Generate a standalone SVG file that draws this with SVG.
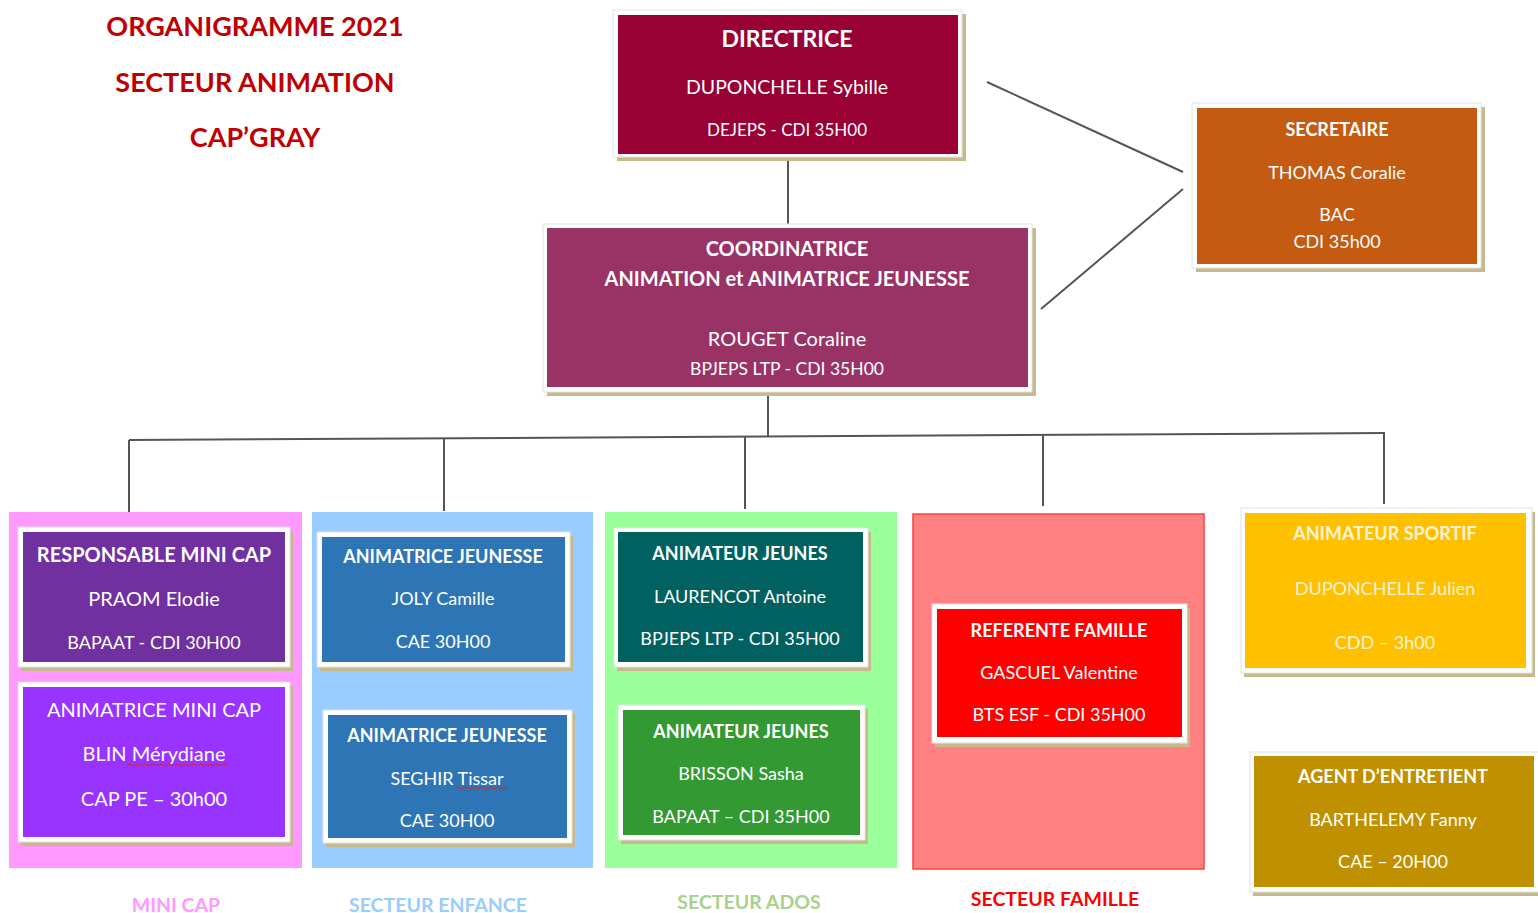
<svg xmlns="http://www.w3.org/2000/svg" width="1538" height="913" viewBox="0 0 1538 913">
<style>
text{font-family:Lato,"Liberation Sans",sans-serif;text-anchor:middle;fill:#fff}
.b{font-weight:bold}
.sh{fill:#c8b98c}
.fr{fill:#fff;stroke:#e2e2e2;stroke-width:1}
.ln{stroke:#555;stroke-width:2;fill:none}
.t{fill:#c00000;font-weight:bold;font-size:27px}
.lab{font-weight:bold;font-size:19.5px}
.wv{stroke:#e02020;stroke-width:1;fill:none}
.s18{font-size:18px}
.s20{font-size:20px}
</style>
<rect width="1538" height="913" fill="#fff"/>
<g id="title">
<text class="t" x="255" y="36">ORGANIGRAMME 2021</text>
<text class="t" x="255" y="92">SECTEUR ANIMATION</text>
<text class="t" x="255" y="147">CAP’GRAY</text>
</g>
<g id="connectors">
<line class="ln" x1="788" y1="158" x2="788" y2="225"/>
<line class="ln" x1="987" y1="82" x2="1183" y2="172"/>
<line class="ln" x1="1041" y1="309" x2="1183" y2="189"/>
<line class="ln" x1="768" y1="393" x2="768" y2="437"/>
<line class="ln" x1="129" y1="440" x2="1385" y2="433"/>
<line class="ln" x1="129" y1="440" x2="129" y2="512"/>
<line class="ln" x1="444" y1="439" x2="444" y2="511"/>
<line class="ln" x1="745" y1="437" x2="745" y2="509"/>
<line class="ln" x1="1043" y1="435" x2="1043" y2="506"/>
<line class="ln" x1="1384" y1="433" x2="1384" y2="504"/>
</g>
<g id="directrice">
<rect class="sh" x="617" y="14" width="349" height="147"/>
<rect class="fr" x="613" y="10" width="349" height="147"/>
<rect x="618" y="15" width="340" height="139" fill="#990033"/>
<text class="b" x="787" y="47" font-size="23">DIRECTRICE</text>
<text x="787" y="94" font-size="19.5">DUPONCHELLE Sybille</text>
<text x="787" y="136" font-size="17">DEJEPS - CDI 35H00</text>
</g>
<g id="secretaire">
<rect class="sh" x="1196" y="107" width="289" height="165"/>
<rect class="fr" x="1192" y="103" width="289" height="165"/>
<rect x="1197" y="108" width="280" height="156" fill="#c55a11"/>
<text class="b s18" x="1337" y="135.5">SECRETAIRE</text>
<text class="s18" x="1337" y="178.5">THOMAS Coralie</text>
<text class="s18" x="1337" y="220.5">BAC</text>
<text class="s18" x="1337" y="247.5">CDI 35h00</text>
</g>
<g id="coordinatrice">
<rect class="sh" x="547" y="228" width="489" height="168"/>
<rect class="fr" x="543" y="224" width="489" height="168"/>
<rect x="547" y="228" width="481" height="159" fill="#993366"/>
<text class="b s20" x="787" y="256">COORDINATRICE</text>
<text class="b s20" x="787" y="286">ANIMATION et ANIMATRICE JEUNESSE</text>
<text class="s20" x="787" y="346">ROUGET Coraline</text>
<text x="787" y="375" font-size="17.5">BPJEPS LTP - CDI 35H00</text>
</g>
<g id="secteur-minicap">
<rect x="9" y="512" width="293" height="356" fill="#ff99ff"/>
<text class="lab" x="176" y="912" style="fill:#ff99ff">MINI CAP</text>
</g>
<g id="responsable-minicap">
<rect class="sh" x="21" y="531" width="272" height="140" fill="#b07070"/>
<rect class="fr" x="18" y="527" width="272" height="140"/>
<rect x="23" y="532" width="262" height="130" fill="#7030a0"/>
<text class="b s20" x="154" y="562">RESPONSABLE MINI CAP</text>
<text class="s20" x="154" y="606">PRAOM Elodie</text>
<text class="s18" x="154" y="648.5">BAPAAT - CDI 30H00</text>
</g>
<g id="animatrice-minicap">
<rect class="sh" x="21" y="686" width="272" height="160"/>
<rect class="fr" x="18" y="682" width="272" height="160"/>
<rect x="23" y="687" width="262" height="150" fill="#9933ff"/>
<text class="s20" x="154" y="717">ANIMATRICE MINI CAP</text>
<text class="s20" x="154" y="761">BLIN Mérydiane</text>
<path class="wv" d="M127 765 q2 -2 4 0 t4 0 t4 0 t4 0 t4 0 t4 0 t4 0 t4 0 t4 0 t4 0 t4 0 t4 0 t4 0 t4 0 t4 0 t4 0 t4 0 t4 0 t4 0 t4 0 t4 0 t4 0 t4 0 t4 0 t4 0"/>
<text class="s20" x="154" y="806">CAP PE – 30h00</text>
</g>
<g id="secteur-enfance">
<rect x="312" y="512" width="281" height="356" fill="#99ccff"/>
<text class="lab" x="438" y="912" style="fill:#99ccff">SECTEUR ENFANCE</text>
</g>
<g id="joly">
<rect class="sh" x="320" y="536" width="253" height="135" fill="#8a9a7a"/>
<rect class="fr" x="317" y="532" width="253" height="135"/>
<rect x="322" y="537" width="243" height="125" fill="#2e75b6"/>
<text class="b s18" x="443" y="562.5">ANIMATRICE JEUNESSE</text>
<text class="s18" x="443" y="604.5">JOLY Camille</text>
<text class="s18" x="443" y="647.5">CAE 30H00</text>
</g>
<g id="seghir">
<rect class="sh" x="326" y="714" width="249" height="133" fill="#8a9a7a"/>
<rect class="fr" x="323" y="710" width="249" height="133"/>
<rect x="328" y="715" width="239" height="123" fill="#2e75b6"/>
<text class="b s18" x="447" y="741.5">ANIMATRICE JEUNESSE</text>
<text class="s18" x="447" y="784.5">SEGHIR Tissar</text>
<path class="wv" d="M456 788 q2 -2 4 0 t4 0 t4 0 t4 0 t4 0 t4 0 t4 0 t4 0 t4 0 t4 0 t4 0 t4 0 t4 0"/>
<text class="s18" x="447" y="826.5">CAE 30H00</text>
</g>
<g id="secteur-ados">
<rect x="605" y="512" width="292" height="356" fill="#99ff99"/>
<text class="lab" x="749" y="909" style="fill:#a9d18e">SECTEUR ADOS</text>
</g>
<g id="laurencot">
<rect class="sh" x="617" y="532" width="254" height="139" fill="#a4a070"/>
<rect class="fr" x="614" y="528" width="254" height="139"/>
<rect x="618" y="532" width="245" height="130" fill="#006160"/>
<text class="b s18" x="740" y="559.5">ANIMATEUR JEUNES</text>
<text class="s18" x="740" y="602.5">LAURENCOT Antoine</text>
<text class="s18" x="740" y="644.5">BPJEPS LTP - CDI 35H00</text>
</g>
<g id="brisson">
<rect class="sh" x="621" y="709" width="247" height="135" fill="#a4a070"/>
<rect class="fr" x="618" y="705" width="247" height="135"/>
<rect x="623" y="710" width="237" height="125" fill="#339933"/>
<text class="b s18" x="741" y="737.5">ANIMATEUR JEUNES</text>
<text class="s18" x="741" y="779.5">BRISSON Sasha</text>
<text class="s18" x="741" y="822.5">BAPAAT – CDI 35H00</text>
</g>
<g id="secteur-famille">
<rect x="913" y="514" width="291" height="355" fill="#ff8080" stroke="#ff4040" stroke-width="1.5"/>
<text class="lab" x="1055" y="906" style="fill:#ff0000">SECTEUR FAMILLE</text>
</g>
<g id="referente">
<rect class="sh" x="935" y="608" width="255" height="139" fill="#c08050"/>
<rect class="fr" x="932" y="604" width="255" height="139"/>
<rect x="937" y="609" width="245" height="128" fill="#ff0000"/>
<text class="b s18" x="1059" y="636.5">REFERENTE FAMILLE</text>
<text class="s18" x="1059" y="678.5">GASCUEL Valentine</text>
<text class="s18" x="1059" y="720.5">BTS ESF - CDI 35H00</text>
</g>
<g id="animateur-sportif">
<rect class="sh" x="1244" y="512" width="291" height="165"/>
<rect class="fr" x="1241" y="508" width="291" height="165"/>
<rect x="1245" y="513" width="281" height="155" fill="#ffc000"/>
<text class="b s18" x="1385" y="539.5" style="fill:#fff4d6">ANIMATEUR SPORTIF</text>
<text class="s18" x="1385" y="594.5" style="fill:#fff4d6">DUPONCHELLE Julien</text>
<text class="s18" x="1385" y="648.5" style="fill:#fff4d6">CDD – 3h00</text>
</g>
<g id="agent-entretien">
<rect class="sh" x="1253" y="756" width="290" height="140"/>
<rect class="fr" x="1250" y="752" width="290" height="140"/>
<rect x="1254" y="756" width="280" height="131" fill="#bf9000"/>
<text class="b s18" x="1393" y="782.5">AGENT D’ENTRETIENT</text>
<text class="s18" x="1393" y="825.5">BARTHELEMY Fanny</text>
<text class="s18" x="1393" y="867.5">CAE – 20H00</text>
</g>
</svg>
